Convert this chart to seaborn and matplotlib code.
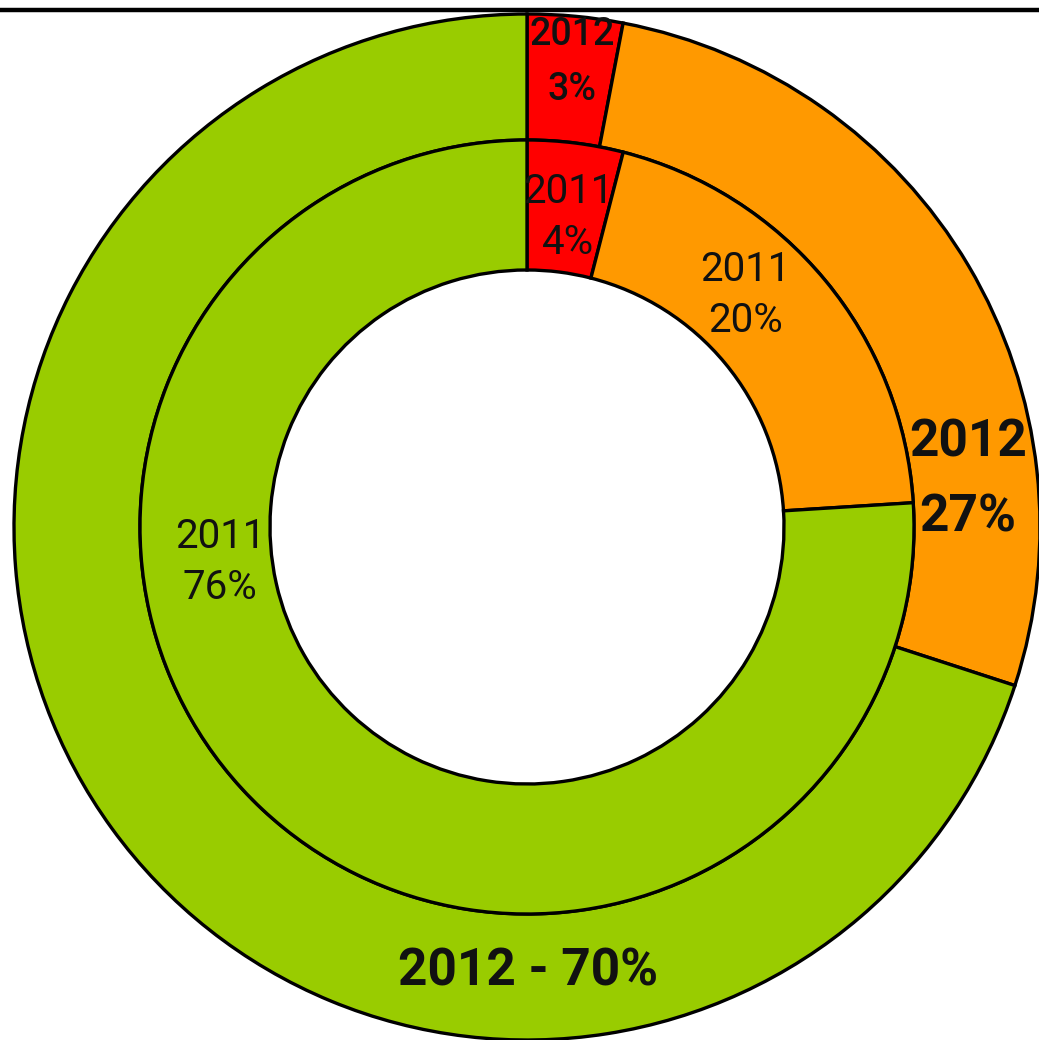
import matplotlib
matplotlib.use("Agg")
import matplotlib.pyplot as plt
import seaborn as sns

# data
categories = ["red", "orange", "green"]
share_2012 = [3, 27, 70]
share_2011 = [4, 20, 76]
colors = ["#ff0000", "#ff9900", "#99cc00"]

labels_2012 = ["2012\n3%", "2012\n27%", "2012 - 70%"]
labels_2011 = ["2011\n4%", "2011\n20%", "2011\n76%"]

sns.set_theme(style="white")
plt.rcParams["font.family"] = ["Roboto", "DejaVu Sans"]

W, H = 1039, 1040
fig = plt.figure(figsize=(W / 100, H / 100), dpi=100)
ax = fig.add_axes([0, 0, 1, 1030 / H])

cx, cy = 527, H - 527
edge = dict(edgecolor="black", linewidth=2.4)

# outer ring (2012)
ax.pie(share_2012, colors=colors, startangle=90, counterclock=False,
       radius=513, center=(cx, cy), wedgeprops=dict(width=126, **edge))
# inner ring (2011)
ax.pie(share_2011, colors=colors, startangle=90, counterclock=False,
       radius=387, center=(cx, cy), wedgeprops=dict(width=130, **edge))

ax.set_xlim(0, W)
ax.set_ylim(0, 1030)
ax.set_aspect("equal")
ax.set_frame_on(True)
for side in ["left", "right", "bottom"]:
    ax.spines[side].set_visible(False)
ax.spines["top"].set_visible(True)
ax.spines["top"].set_linewidth(3.2)
ax.spines["top"].set_color("black")
ax.set_xticks([])
ax.set_yticks([])

# label anchors in image pixels (x, y from top)
pos_2012 = [(572, 62), (968, 480), (528, 972)]
size_2012 = [27, 37, 37]
weight_2012 = ["medium", "bold", "bold"]
spacing_2012 = [1.6, 1.62, 1.2]
pos_2011 = [(568, 217), (745, 295), (220, 562)]

for (x, y), txt, fs, fw, ls in zip(pos_2012, labels_2012, size_2012,
                                   weight_2012, spacing_2012):
    ax.text(x, H - y, txt, ha="center", va="center", fontsize=fs,
            fontweight=fw, color="#111111", linespacing=ls)
for (x, y), txt in zip(pos_2011, labels_2011):
    ax.text(x, H - y, txt, ha="center", va="center", fontsize=29,
            color="#111111", linespacing=1.4)

fig.savefig("out.png", dpi=100, facecolor="white")
